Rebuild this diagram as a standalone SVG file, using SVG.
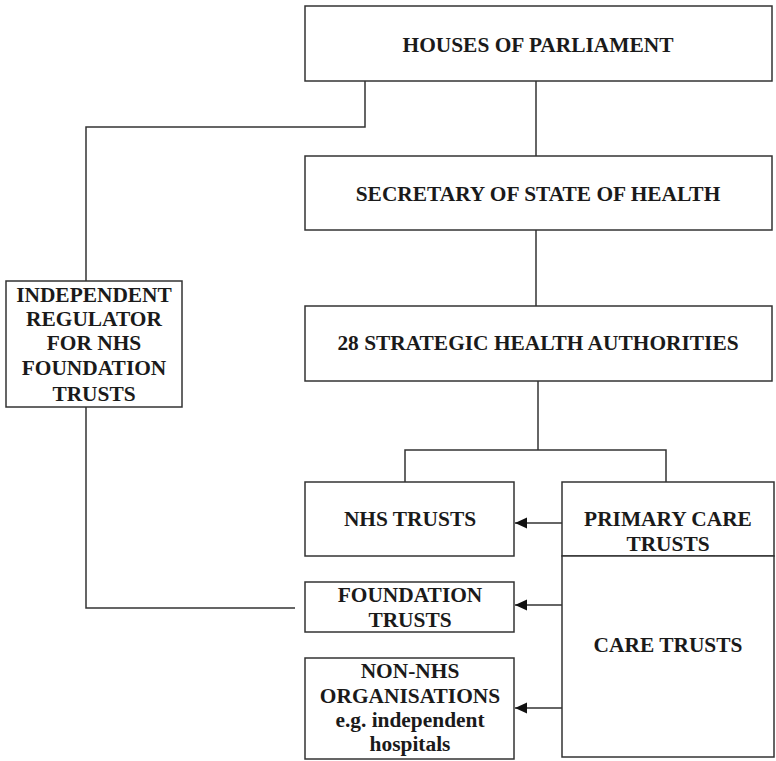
<svg xmlns="http://www.w3.org/2000/svg" width="776" height="761" viewBox="0 0 776 761">
<style>
.box{fill:#fff;stroke:#333;stroke-width:1.5}
.ln{fill:none;stroke:#333;stroke-width:1.5}
text{font-family:"Liberation Serif","Times New Roman",serif;font-weight:bold;font-size:21.4px;fill:#1a1a1a;text-anchor:middle}
</style>
<defs>
<marker id="arr" markerWidth="13" markerHeight="12" refX="12" refY="6" orient="auto" markerUnits="userSpaceOnUse">
<path d="M0,0.5 L12,6 L0,11.5 Z" fill="#111"/>
</marker>
</defs>
<rect width="776" height="761" fill="#fff"/>
<g id="connectors">
<polyline class="ln" points="365,81 365,127 86,127 86,281"/>
<line class="ln" x1="536" y1="81" x2="536" y2="156"/>
<line class="ln" x1="536" y1="230" x2="536" y2="306"/>
<line class="ln" x1="538" y1="381" x2="538" y2="450"/>
<polyline class="ln" points="405,482 405,450 666,450 666,482"/>
<polyline class="ln" points="86,407 86,608 295,608"/>
<line class="ln" x1="562" y1="523" x2="515" y2="523" marker-end="url(#arr)"/>
<line class="ln" x1="562" y1="605" x2="515" y2="605" marker-end="url(#arr)"/>
<line class="ln" x1="562" y1="708" x2="515" y2="708" marker-end="url(#arr)"/>
</g>
<g id="houses">
<rect class="box" x="305" y="6" width="467" height="75"/>
<text x="538" y="52">HOUSES OF PARLIAMENT</text>
</g>
<g id="secretary">
<rect class="box" x="305" y="156" width="467" height="74"/>
<text x="538" y="201">SECRETARY OF STATE OF HEALTH</text>
</g>
<g id="strategic">
<rect class="box" x="305" y="306" width="467" height="75"/>
<text x="538" y="350">28 STRATEGIC HEALTH AUTHORITIES</text>
</g>
<g id="regulator">
<rect class="box" x="6" y="281" width="176" height="126"/>
<text x="94" y="302">INDEPENDENT</text>
<text x="94" y="326">REGULATOR</text>
<text x="94" y="350">FOR NHS</text>
<text x="94" y="375">FOUNDATION</text>
<text x="94" y="401">TRUSTS</text>
</g>
<g id="nhs-trusts">
<rect class="box" x="305" y="482" width="209" height="74"/>
<text x="410" y="526">NHS TRUSTS</text>
</g>
<g id="primary-care">
<rect class="box" x="562" y="482" width="212" height="74"/>
<text x="668" y="526">PRIMARY CARE</text>
<text x="668" y="551">TRUSTS</text>
</g>
<g id="care-trusts">
<rect class="box" x="562" y="556" width="212" height="201"/>
<text x="668" y="652">CARE TRUSTS</text>
</g>
<g id="foundation">
<rect class="box" x="305" y="582" width="209" height="50"/>
<text x="410" y="602">FOUNDATION</text>
<text x="410" y="627">TRUSTS</text>
</g>
<g id="non-nhs">
<rect class="box" x="305" y="658" width="209" height="101"/>
<text x="410" y="678">NON-NHS</text>
<text x="410" y="703">ORGANISATIONS</text>
<text x="410" y="727">e.g. independent</text>
<text x="410" y="751">hospitals</text>
</g>
</svg>
